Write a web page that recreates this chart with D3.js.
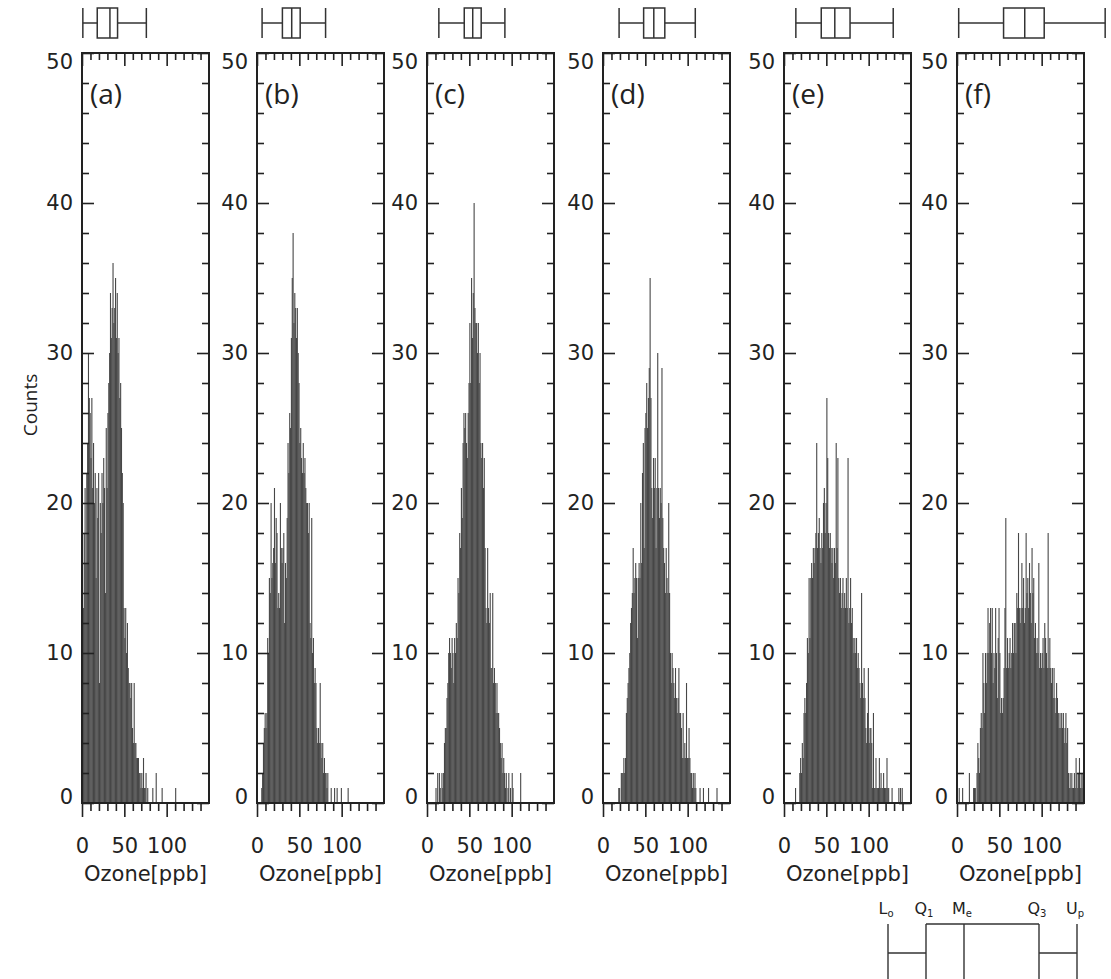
<!DOCTYPE html>
<html>
<head>
<meta charset="utf-8">
<script src="https://d3js.org/d3.v7.min.js"></script>
<style>
  body { margin: 0; background: #fff; }
  svg { display: block; }
</style>
</head>
<body>
<div id="chart"></div>
<script>
// counts per 1 ppb bin, first value is the 0 ppb bin
var countsA = [5,13,18,21,16,22,24,30,27,26,
    23,27,21,24,20,22,15,21,19,22,
    8,20,18,22,20,23,21,14,25,21,
    26,28,30,34,31,33,36,32,33,35,
    31,34,30,31,27,28,25,22,20,13,
    11,13,10,12,9,8,8,7,8,5,
    4,8,4,4,3,3,3,2,2,1,
    2,1,3,1,1,2,0,1,0,0,
    0,0,0,1,0,0,0,2,0,0,
    0,0,0,0,1,0,0,0,0,0,
    0,0,0,0,0,0,0,0,0,0,
    1];
var countsB = [0,0,0,0,0,1,2,4,5,6,
    5,6,11,10,15,14,20,15,16,17,
    21,16,19,18,13,14,13,20,17,16,
    17,18,12,16,15,19,24,22,26,25,
    31,35,38,32,34,33,31,33,30,28,
    24,25,23,22,24,22,23,21,20,20,
    18,20,12,11,19,10,11,8,9,8,
    5,4,5,4,8,4,3,4,2,3,
    2,2,1,2,0,0,0,1,0,0,
    0,1,0,0,1,0,0,0,0,1,
    0,0,0,0,0,0,0,1];
var countsC = [0,0,0,0,0,0,0,0,0,0,
    1,0,2,0,2,1,0,2,1,2,
    4,5,5,7,8,10,11,10,9,11,
    10,8,11,10,12,11,15,14,18,17,
    21,19,24,26,25,26,24,23,26,28,
    32,28,35,31,34,40,33,32,32,30,
    32,28,30,24,23,24,21,23,17,13,
    12,17,13,12,14,9,9,14,8,9,
    8,6,8,6,6,5,4,3,4,2,
    3,2,1,2,0,1,2,0,1,0,
    2,1,0,0,0,0,0,0,0,0,
    2];
var countsD = [0,0,0,0,0,0,0,0,0,0,
    0,0,0,0,0,0,0,0,1,1,
    0,2,2,2,3,2,3,6,7,8,
    9,10,12,13,14,17,14,15,16,15,
    11,15,16,15,20,16,22,24,17,25,
    26,28,25,27,29,35,27,21,19,23,
    21,23,17,21,30,21,19,21,20,29,
    19,17,16,14,17,15,14,20,14,10,
    8,10,9,8,7,9,7,6,7,9,
    6,6,5,3,6,3,4,3,8,3,
    3,5,3,2,2,1,2,1,2,1,
    0,0,0,0,1,0,0,0,1,0,
    0,0,0,0,1,0,0,0,0,0,
    0,0,0,0,1];
var countsE = [0,0,0,0,0,0,0,0,0,0,
    0,0,0,1,0,0,0,0,2,3,
    2,4,3,6,7,6,8,11,10,15,
    11,15,16,15,17,16,17,18,24,17,
    18,19,17,16,18,17,20,21,18,20,
    27,23,18,17,18,17,16,17,15,17,
    16,24,17,23,15,14,15,13,14,15,
    13,14,13,15,13,23,12,13,15,12,
    13,11,10,11,10,11,9,10,9,8,
    7,14,8,7,9,7,5,4,6,9,
    4,5,5,4,1,6,1,1,3,1,
    1,1,3,1,2,1,1,2,1,1,
    1,3,1,1,0,0,0,1,0,0,
    0,0,0,0,0,1,0,1,0,1];
var countsF = [0,0,1,0,0,0,1,0,0,0,
    0,0,0,0,2,0,0,0,0,1,
    1,1,0,2,4,3,2,5,6,5,
    10,8,6,10,8,10,13,10,12,13,
    10,13,8,10,9,13,10,7,11,13,
    10,6,7,6,7,9,13,19,9,11,
    9,10,11,9,10,12,10,12,12,10,
    14,13,18,13,12,13,16,13,15,12,
    13,18,14,15,13,16,14,12,17,14,
    15,11,12,10,11,10,16,9,10,9,
    10,11,9,12,11,10,9,18,9,11,
    9,8,9,7,9,7,6,8,7,6,
    5,6,5,6,5,6,4,5,6,4,
    5,2,1,2,1,2,1,1,2,1,
    3,2,1,2,3,1,2,1,2,1];

var panelNames = ["(a)", "(b)", "(c)", "(d)", "(e)", "(f)"];

// box plot statistics [ppb]
var boxLo  = [1, 6, 14, 19, 14, 2];
var boxQ1  = [18, 30, 44, 48, 44, 55];
var boxMed = [33, 41, 54, 60, 60, 80];
var boxQ3  = [42, 51, 64, 73, 78, 103];
var boxUp  = [76, 81, 92, 109, 129, 175];

var xMajor = [0, 50, 100];
var xMinor = [10, 20, 30, 40, 60, 70, 80, 90, 110, 120, 130, 140];
var yMajor = [0, 10, 20, 30, 40, 50];
var yMinor = [2, 4, 6, 8, 12, 14, 16, 18, 22, 24, 26, 28, 32, 34, 36, 38, 42, 44, 46, 48];

var legendKeys = [["L", "o"], ["Q", "1"], ["M", "e"], ["Q", "3"], ["U", "p"]];

var allCounts = [countsA, countsB, countsC, countsD, countsE, countsF];

// layout
var W = 1111, H = 979;
var panelLeft = [82, 257, 427, 603, 784, 957],
    panelW = 127,
    plotTop = 53,
    plotBottom = 803;
var axisFont = "'DejaVu Sans', sans-serif";
var ink = "#222";

var svg = d3.select("#chart")
    .append("svg")
    .attr("width", W)
    .attr("height", H);

var y = d3.scaleLinear()
    .domain([0, 50])
    .range([plotBottom, plotTop]);

allCounts.forEach(function (counts, p) {
    var left = panelLeft[p];
    var x = d3.scaleLinear()
        .domain([0, 150])
        .range([left, left + panelW]);

    var g = svg.append("g");

    // histogram bars
    var bins = counts.map(function (c, i) { return { bin: i, count: c }; })
        .filter(function (d) { return d.count > 0; });
    g.selectAll("rect.bar")
        .data(bins)
        .enter()
        .append("rect")
        .attr("class", "bar")
        .attr("x", function (d) { return x(d.bin); })
        .attr("width", x(1) - x(0) + 0.25)
        .attr("y", function (d) { return y(d.count); })
        .attr("height", function (d) { return y(0) - y(d.count); })
        .attr("fill", "#474747");

    // frame
    g.append("rect")
        .attr("x", left)
        .attr("y", plotTop)
        .attr("width", panelW)
        .attr("height", plotBottom - plotTop)
        .attr("fill", "none")
        .attr("stroke", ink)
        .attr("stroke-width", 2);

    // bottom axis (ticks outward) with labels
    g.append("g")
        .attr("transform", "translate(0," + plotBottom + ")")
        .call(d3.axisBottom(x).tickValues(xMajor).tickSize(14).tickSizeOuter(0).tickPadding(21));
    g.append("g")
        .attr("transform", "translate(0," + plotBottom + ")")
        .call(d3.axisBottom(x).tickValues(xMinor).tickSize(8).tickSizeOuter(0).tickFormat(""));

    // top axis (ticks inward)
    g.append("g")
        .attr("transform", "translate(0," + plotTop + ")")
        .call(d3.axisBottom(x).tickValues(xMajor).tickSize(13).tickSizeOuter(0).tickFormat(""));
    g.append("g")
        .attr("transform", "translate(0," + plotTop + ")")
        .call(d3.axisBottom(x).tickValues(xMinor).tickSize(7).tickSizeOuter(0).tickFormat(""));

    // left axis: inward ticks plus labels
    g.append("g")
        .attr("transform", "translate(" + left + ",0)")
        .call(d3.axisRight(y).tickValues(yMajor).tickSize(12).tickSizeOuter(0).tickFormat(""));
    g.append("g")
        .attr("transform", "translate(" + left + ",0)")
        .call(d3.axisRight(y).tickValues(yMinor).tickSize(7).tickSizeOuter(0).tickFormat(""));
    var lab = g.append("g")
        .attr("transform", "translate(" + left + ",0)")
        .call(d3.axisLeft(y).tickValues(yMajor).tickSize(0).tickPadding(9));
    lab.selectAll(".tick text")
        .attr("dy", function (v) { return v === 0 ? "-0.0em" : v === 50 ? "0.72em" : "0.32em"; });

    // right axis: inward ticks
    g.append("g")
        .attr("transform", "translate(" + (left + panelW) + ",0)")
        .call(d3.axisLeft(y).tickValues(yMajor).tickSize(12).tickSizeOuter(0).tickFormat(""));
    g.append("g")
        .attr("transform", "translate(" + (left + panelW) + ",0)")
        .call(d3.axisLeft(y).tickValues(yMinor).tickSize(7).tickSizeOuter(0).tickFormat(""));

    g.selectAll(".domain").remove();
    g.selectAll(".tick line").attr("stroke", ink).attr("stroke-width", 1.6);
    g.selectAll(".tick text")
        .attr("fill", ink)
        .style("font-family", axisFont)
        .style("font-size", "21px");

    // x title
    g.append("text")
        .attr("x", left + panelW / 2)
        .attr("y", 881)
        .attr("text-anchor", "middle")
        .attr("fill", ink)
        .style("font-family", axisFont)
        .style("font-size", "21px")
        .text("Ozone[ppb]");

    // panel letter
    g.append("text")
        .attr("x", left + 8)
        .attr("y", 104)
        .attr("fill", ink)
        .style("font-family", "'Open Sans', sans-serif")
        .style("font-size", "28px")
        .text(panelNames[p]);

    // box plot above the panel
    var bTop = 8, bBot = 38, bMid = 23;
    var box = g.append("g")
        .attr("stroke", "#333")
        .attr("stroke-width", 1.5)
        .attr("fill", "none");
    box.append("line")
        .attr("x1", x(boxLo[p])).attr("x2", x(boxQ1[p]))
        .attr("y1", bMid).attr("y2", bMid);
    box.append("line")
        .attr("x1", x(boxQ3[p])).attr("x2", x(boxUp[p]))
        .attr("y1", bMid).attr("y2", bMid);
    [boxLo[p], boxUp[p]].forEach(function (v) {
        box.append("line")
            .attr("x1", x(v)).attr("x2", x(v))
            .attr("y1", bTop).attr("y2", bBot);
    });
    box.append("rect")
        .attr("x", x(boxQ1[p]))
        .attr("y", bTop)
        .attr("width", x(boxQ3[p]) - x(boxQ1[p]))
        .attr("height", bBot - bTop);
    box.append("line")
        .attr("x1", x(boxMed[p])).attr("x2", x(boxMed[p]))
        .attr("y1", bTop).attr("y2", bBot);
});

// y title
svg.append("text")
    .attr("transform", "translate(37,405) rotate(-90)")
    .attr("text-anchor", "middle")
    .attr("fill", ink)
    .style("font-family", "'Open Sans', sans-serif")
    .style("font-size", "19px")
    .text("Counts");

// legend: box plot key
var keyPos = [888, 926, 964, 1039, 1077];
var kTop = 924, kMid = 953, kBot = 985;
var key = svg.append("g")
    .attr("stroke", "#333")
    .attr("stroke-width", 1.4)
    .attr("fill", "none");
key.append("line").attr("x1", keyPos[0]).attr("x2", keyPos[0]).attr("y1", kTop).attr("y2", kBot);
key.append("line").attr("x1", keyPos[4]).attr("x2", keyPos[4]).attr("y1", kTop).attr("y2", kBot);
key.append("line").attr("x1", keyPos[0]).attr("x2", keyPos[1]).attr("y1", kMid).attr("y2", kMid);
key.append("line").attr("x1", keyPos[3]).attr("x2", keyPos[4]).attr("y1", kMid).attr("y2", kMid);
key.append("line").attr("x1", keyPos[1]).attr("x2", keyPos[3]).attr("y1", kTop).attr("y2", kTop);
[1, 2, 3].forEach(function (k) {
    key.append("line").attr("x1", keyPos[k]).attr("x2", keyPos[k]).attr("y1", kTop).attr("y2", kBot);
});

legendKeys.forEach(function (k, i) {
    var t = svg.append("text")
        .attr("x", keyPos[i] - 2)
        .attr("y", 914)
        .attr("text-anchor", "middle")
        .attr("fill", ink)
        .style("font-family", axisFont)
        .style("font-size", "16px");
    t.append("tspan").text(k[0]);
    t.append("tspan").attr("dy", 3).style("font-size", "10px").text(k[1]);
});
</script>
</body>
</html>
